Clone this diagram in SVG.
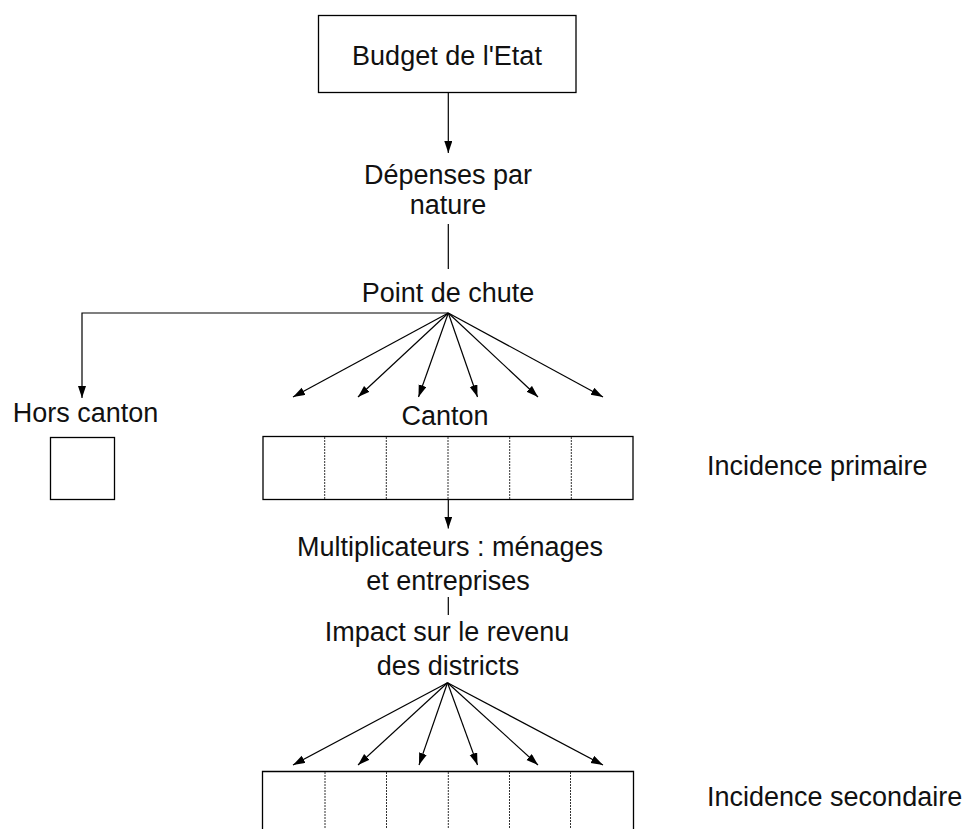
<svg xmlns="http://www.w3.org/2000/svg" width="967" height="829" viewBox="0 0 967 829">
<defs>
<marker id="arr" markerUnits="userSpaceOnUse" markerWidth="13" markerHeight="9" refX="12" refY="4" orient="auto">
<path d="M0,0 L12,4 L0,8 z" fill="#000"/>
</marker>
</defs>
<style>
text{font-family:"Liberation Sans",Arial,sans-serif;font-size:27px;fill:#111}
.c{text-anchor:middle}
.box{fill:#fff;stroke:#000;stroke-width:1.3}
.dot{stroke:#333;stroke-width:1;stroke-dasharray:2,1;fill:none}
.ln{stroke:#000;stroke-width:1.2;fill:none}
.ar{marker-end:url(#arr)}
</style>
<rect width="967" height="829" fill="#fff"/>
<g id="budget">
<rect class="box" x="318.5" y="15.5" width="257.5" height="77"/>
<text class="c" x="447" y="65">Budget de l'Etat</text>
</g>
<g id="depenses">
<text class="c" x="448" y="184">Dépenses par</text>
<text class="c" x="448" y="214">nature</text>
</g>
<g id="point">
<text class="c" x="448" y="302">Point de chute</text>
</g>
<g id="hors">
<text class="c" x="85.5" y="422">Hors canton</text>
<rect class="box" x="50.5" y="437.5" width="64" height="62"/>
</g>
<g id="canton">
<text class="c" x="445" y="425">Canton</text>
<rect class="box" x="263" y="436.5" width="370" height="63"/>
<line class="dot" x1="324.7" y1="437" x2="324.7" y2="499"/>
<line class="dot" x1="386.3" y1="437" x2="386.3" y2="499"/>
<line class="dot" x1="448" y1="437" x2="448" y2="499"/>
<line class="dot" x1="509.7" y1="437" x2="509.7" y2="499"/>
<line class="dot" x1="571.3" y1="437" x2="571.3" y2="499"/>
</g>
<g id="incprim">
<text x="707" y="475">Incidence primaire</text>
</g>
<g id="multi">
<text class="c" x="450" y="556">Multiplicateurs : ménages</text>
<text class="c" x="448" y="590">et entreprises</text>
</g>
<g id="impact">
<text class="c" x="447" y="641">Impact sur le revenu</text>
<text class="c" x="448" y="675">des districts</text>
</g>
<g id="district">
<path class="box" d="M262.5,829 V771.5 H633.5 V829"/>
<line class="dot" x1="325" y1="772" x2="325" y2="829"/>
<line class="dot" x1="386.5" y1="772" x2="386.5" y2="829"/>
<line class="dot" x1="448.3" y1="772" x2="448.3" y2="829"/>
<line class="dot" x1="509.5" y1="772" x2="509.5" y2="829"/>
<line class="dot" x1="570.5" y1="772" x2="570.5" y2="829"/>
</g>
<g id="incsec">
<text x="707" y="806">Incidence secondaire</text>
</g>
<g id="connectors">
<line class="ln ar" x1="448.3" y1="92.5" x2="448.3" y2="153"/>
<line class="ln" x1="448.3" y1="224" x2="448.3" y2="269"/>
<polyline class="ln ar" points="448.3,313 82,313 82,398"/>
<line class="ln ar" x1="448.3" y1="313" x2="293" y2="397"/>
<line class="ln ar" x1="448.3" y1="313" x2="358" y2="397"/>
<line class="ln ar" x1="448.3" y1="313" x2="418.5" y2="397"/>
<line class="ln ar" x1="448.3" y1="313" x2="477.5" y2="397"/>
<line class="ln ar" x1="448.3" y1="313" x2="538" y2="397"/>
<line class="ln ar" x1="448.3" y1="313" x2="603" y2="397"/>
<line class="ln ar" x1="448.3" y1="499.5" x2="448.3" y2="528.5"/>
<line class="ln" x1="448.3" y1="597" x2="448.3" y2="615"/>
<line class="ln ar" x1="447.5" y1="682.7" x2="293" y2="765"/>
<line class="ln ar" x1="447.5" y1="682.7" x2="358" y2="765"/>
<line class="ln ar" x1="447.5" y1="682.7" x2="419" y2="765"/>
<line class="ln ar" x1="447.5" y1="682.7" x2="477.5" y2="765"/>
<line class="ln ar" x1="447.5" y1="682.7" x2="538" y2="765"/>
<line class="ln ar" x1="447.5" y1="682.7" x2="603" y2="765"/>
</g>
</svg>
